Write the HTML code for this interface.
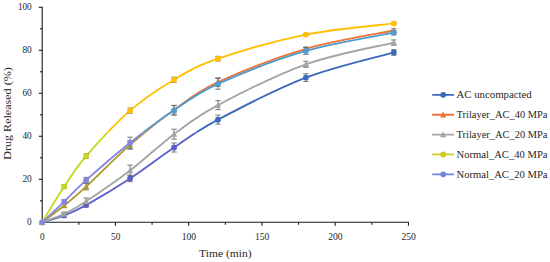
<!DOCTYPE html>
<html><head><meta charset="utf-8"><title>Drug release</title><style>html,body{margin:0;padding:0;background:#fff}svg{display:block}</style></head><body>
<svg width="550" height="262" viewBox="0 0 550 262">
<rect width="550" height="262" fill="#fff"/>
<g font-family="'Liberation Serif', serif" fill="#262626">
<g stroke="#1a1a1a" stroke-width="1.1" fill="none">
<path d="M42.20 6.75 V222.85"/>
<path d="M41.65 222.30 H409.00"/>
<path d="M40.00 200.80 H42.20"/>
<path d="M38.80 179.30 H42.20"/>
<path d="M40.00 157.80 H42.20"/>
<path d="M38.80 136.30 H42.20"/>
<path d="M40.00 114.80 H42.20"/>
<path d="M38.80 93.30 H42.20"/>
<path d="M40.00 71.80 H42.20"/>
<path d="M38.80 50.30 H42.20"/>
<path d="M40.00 28.80 H42.20"/>
<path d="M38.80 7.30 H42.20"/>
<path d="M78.83 222.30 V224.70"/>
<path d="M115.45 222.30 V225.70"/>
<path d="M152.07 222.30 V224.70"/>
<path d="M188.70 222.30 V225.70"/>
<path d="M225.32 222.30 V224.70"/>
<path d="M261.95 222.30 V225.70"/>
<path d="M298.57 222.30 V224.70"/>
<path d="M335.20 222.30 V225.70"/>
<path d="M371.82 222.30 V224.70"/>
<path d="M408.45 222.30 V225.70"/>
</g>
<text x="31.7" y="225.45" font-size="10" text-anchor="end" textLength="4.6" lengthAdjust="spacingAndGlyphs">0</text>
<text x="31.7" y="182.45" font-size="10" text-anchor="end" textLength="9.3" lengthAdjust="spacingAndGlyphs">20</text>
<text x="31.7" y="139.45" font-size="10" text-anchor="end" textLength="9.3" lengthAdjust="spacingAndGlyphs">40</text>
<text x="31.7" y="96.45" font-size="10" text-anchor="end" textLength="9.3" lengthAdjust="spacingAndGlyphs">60</text>
<text x="31.7" y="53.45" font-size="10" text-anchor="end" textLength="9.3" lengthAdjust="spacingAndGlyphs">80</text>
<text x="31.7" y="10.45" font-size="10" text-anchor="end" textLength="13.8" lengthAdjust="spacingAndGlyphs">100</text>
<text x="42.40" y="239.7" font-size="10" text-anchor="middle" textLength="4.6" lengthAdjust="spacingAndGlyphs">0</text>
<text x="115.65" y="239.7" font-size="10" text-anchor="middle" textLength="9.3" lengthAdjust="spacingAndGlyphs">50</text>
<text x="188.90" y="239.7" font-size="10" text-anchor="middle" textLength="14.4" lengthAdjust="spacingAndGlyphs">100</text>
<text x="262.15" y="239.7" font-size="10" text-anchor="middle" textLength="14.4" lengthAdjust="spacingAndGlyphs">150</text>
<text x="335.40" y="239.7" font-size="10" text-anchor="middle" textLength="14.4" lengthAdjust="spacingAndGlyphs">200</text>
<text x="408.65" y="239.7" font-size="10" text-anchor="middle" textLength="14.4" lengthAdjust="spacingAndGlyphs">250</text>
<text x="225.3" y="256.5" font-size="10.6" text-anchor="middle" textLength="52.4" lengthAdjust="spacingAndGlyphs">Time (min)</text>
<text transform="translate(11.2,113.5) rotate(-90)" font-size="10.6" text-anchor="middle" textLength="92.4" lengthAdjust="spacingAndGlyphs">Drug Released (%)</text>
<defs><clipPath id="ct"><rect x="0" y="0" width="550" height="132.5"/></clipPath><clipPath id="cb"><rect x="0" y="132.5" width="550" height="129.5"/></clipPath></defs>
<g clip-path="url(#ct)">
<path d="M42.20 222.30 C45.86 221.15 56.85 218.29 64.18 215.42 C71.50 212.55 75.16 211.26 86.15 205.10 C97.14 198.94 115.45 188.04 130.10 178.44 C144.75 168.84 159.40 157.28 174.05 147.48 C188.70 137.68 196.03 131.28 218.00 119.64 C239.97 107.99 276.60 88.80 305.90 77.61 C335.20 66.41 379.15 56.64 393.80 52.45" stroke="#3B6ABD" stroke-width="1.85" fill="none" stroke-linejoin="round" stroke-linecap="round"/>
<path d="M64.18 213.70 V217.14 M61.48 213.70 h5.4 M61.48 217.14 h5.4" stroke="#6a6a6a" stroke-width="0.9" fill="none"/>
<path d="M86.15 202.95 V207.25 M83.45 202.95 h5.4 M83.45 207.25 h5.4" stroke="#6a6a6a" stroke-width="0.9" fill="none"/>
<path d="M130.10 175.22 V181.67 M127.40 175.22 h5.4 M127.40 181.67 h5.4" stroke="#6a6a6a" stroke-width="0.9" fill="none"/>
<path d="M174.05 142.97 V152.00 M171.35 142.97 h5.4 M171.35 152.00 h5.4" stroke="#6a6a6a" stroke-width="0.9" fill="none"/>
<path d="M218.00 115.12 V124.15 M215.30 115.12 h5.4 M215.30 124.15 h5.4" stroke="#6a6a6a" stroke-width="0.9" fill="none"/>
<path d="M305.90 73.74 V81.48 M303.20 73.74 h5.4 M303.20 81.48 h5.4" stroke="#6a6a6a" stroke-width="0.9" fill="none"/>
<path d="M393.80 49.66 V55.25 M391.10 49.66 h5.4 M391.10 55.25 h5.4" stroke="#6a6a6a" stroke-width="0.9" fill="none"/>
<circle cx="42.20" cy="222.30" r="2.9" fill="#3B6ABD"/>
<circle cx="64.18" cy="215.42" r="2.9" fill="#3B6ABD"/>
<circle cx="86.15" cy="205.10" r="2.9" fill="#3B6ABD"/>
<circle cx="130.10" cy="178.44" r="2.9" fill="#3B6ABD"/>
<circle cx="174.05" cy="147.48" r="2.9" fill="#3B6ABD"/>
<circle cx="218.00" cy="119.64" r="2.9" fill="#3B6ABD"/>
<circle cx="305.90" cy="77.61" r="2.9" fill="#3B6ABD"/>
<circle cx="393.80" cy="52.45" r="2.9" fill="#3B6ABD"/>
<path d="M42.20 222.30 C45.86 219.50 56.85 211.48 64.18 205.53 C71.50 199.58 75.16 196.72 86.15 186.61 C97.14 176.51 115.45 157.69 130.10 144.90 C144.75 132.11 159.40 120.32 174.05 109.86 C188.70 99.39 196.03 92.30 218.00 82.12 C239.97 71.94 276.60 57.40 305.90 48.80 C335.20 40.20 379.15 33.57 393.80 30.52" stroke="#EE7336" stroke-width="1.85" fill="none" stroke-linejoin="round" stroke-linecap="round"/>
<path d="M64.18 203.81 V207.25 M61.48 203.81 h5.4 M61.48 207.25 h5.4" stroke="#6a6a6a" stroke-width="0.9" fill="none"/>
<path d="M86.15 183.39 V189.84 M83.45 183.39 h5.4 M83.45 189.84 h5.4" stroke="#6a6a6a" stroke-width="0.9" fill="none"/>
<path d="M130.10 140.60 V149.20 M127.40 140.60 h5.4 M127.40 149.20 h5.4" stroke="#6a6a6a" stroke-width="0.9" fill="none"/>
<path d="M174.05 105.56 V114.16 M171.35 105.56 h5.4 M171.35 114.16 h5.4" stroke="#6a6a6a" stroke-width="0.9" fill="none"/>
<path d="M218.00 77.82 V86.42 M215.30 77.82 h5.4 M215.30 86.42 h5.4" stroke="#6a6a6a" stroke-width="0.9" fill="none"/>
<path d="M305.90 47.08 V50.52 M303.20 47.08 h5.4 M303.20 50.52 h5.4" stroke="#6a6a6a" stroke-width="0.9" fill="none"/>
<path d="M393.80 28.80 V32.24 M391.10 28.80 h5.4 M391.10 32.24 h5.4" stroke="#6a6a6a" stroke-width="0.9" fill="none"/>
<path d="M42.20 219.10 L45.40 225.02 L39.00 225.02 Z" fill="#EE7336"/>
<path d="M64.18 202.33 L67.38 208.25 L60.98 208.25 Z" fill="#EE7336"/>
<path d="M86.15 183.41 L89.35 189.33 L82.95 189.33 Z" fill="#EE7336"/>
<path d="M130.10 141.70 L133.30 147.62 L126.90 147.62 Z" fill="#EE7336"/>
<path d="M174.05 106.66 L177.25 112.58 L170.85 112.58 Z" fill="#EE7336"/>
<path d="M218.00 78.92 L221.20 84.84 L214.80 84.84 Z" fill="#EE7336"/>
<path d="M305.90 45.60 L309.10 51.52 L302.70 51.52 Z" fill="#EE7336"/>
<path d="M393.80 27.32 L397.00 33.24 L390.60 33.24 Z" fill="#EE7336"/>
<path d="M42.20 222.30 C45.86 220.90 56.85 217.43 64.18 213.92 C71.50 210.40 75.16 208.47 86.15 201.23 C97.14 193.99 115.45 181.67 130.10 170.49 C144.75 159.31 159.40 145.04 174.05 134.15 C188.70 123.26 196.03 116.77 218.00 105.13 C239.97 93.48 276.60 74.70 305.90 64.28 C335.20 53.85 379.15 46.18 393.80 42.56" stroke="#A5A5A5" stroke-width="1.85" fill="none" stroke-linejoin="round" stroke-linecap="round"/>
<path d="M64.18 212.20 V215.64 M61.48 212.20 h5.4 M61.48 215.64 h5.4" stroke="#6a6a6a" stroke-width="0.9" fill="none"/>
<path d="M86.15 198.00 V204.46 M83.45 198.00 h5.4 M83.45 204.46 h5.4" stroke="#6a6a6a" stroke-width="0.9" fill="none"/>
<path d="M130.10 165.11 V175.86 M127.40 165.11 h5.4 M127.40 175.86 h5.4" stroke="#6a6a6a" stroke-width="0.9" fill="none"/>
<path d="M174.05 129.21 V139.10 M171.35 129.21 h5.4 M171.35 139.10 h5.4" stroke="#6a6a6a" stroke-width="0.9" fill="none"/>
<path d="M218.00 100.61 V109.64 M215.30 100.61 h5.4 M215.30 109.64 h5.4" stroke="#6a6a6a" stroke-width="0.9" fill="none"/>
<path d="M305.90 61.27 V67.29 M303.20 61.27 h5.4 M303.20 67.29 h5.4" stroke="#6a6a6a" stroke-width="0.9" fill="none"/>
<path d="M393.80 39.98 V45.14 M391.10 39.98 h5.4 M391.10 45.14 h5.4" stroke="#6a6a6a" stroke-width="0.9" fill="none"/>
<path d="M42.20 219.10 L45.40 225.02 L39.00 225.02 Z" fill="#A5A5A5"/>
<path d="M64.18 210.72 L67.38 216.64 L60.98 216.64 Z" fill="#A5A5A5"/>
<path d="M86.15 198.03 L89.35 203.95 L82.95 203.95 Z" fill="#A5A5A5"/>
<path d="M130.10 167.29 L133.30 173.21 L126.90 173.21 Z" fill="#A5A5A5"/>
<path d="M174.05 130.95 L177.25 136.87 L170.85 136.87 Z" fill="#A5A5A5"/>
<path d="M218.00 101.93 L221.20 107.85 L214.80 107.85 Z" fill="#A5A5A5"/>
<path d="M305.90 61.08 L309.10 67.00 L302.70 67.00 Z" fill="#A5A5A5"/>
<path d="M393.80 39.36 L397.00 45.28 L390.60 45.28 Z" fill="#A5A5A5"/>
<path d="M42.20 222.30 C45.86 216.35 56.85 197.65 64.18 186.61 C71.50 175.57 75.16 168.75 86.15 156.08 C97.14 143.41 115.45 123.33 130.10 110.61 C144.75 97.89 159.40 88.41 174.05 79.76 C188.70 71.10 196.03 66.21 218.00 58.69 C239.97 51.16 276.60 40.48 305.90 34.61 C335.20 28.73 379.15 25.29 393.80 23.43" stroke="#FFC000" stroke-width="1.85" fill="none" stroke-linejoin="round" stroke-linecap="round"/>
<path d="M64.18 184.68 V188.55 M61.48 184.68 h5.4 M61.48 188.55 h5.4" stroke="#6a6a6a" stroke-width="0.9" fill="none"/>
<path d="M86.15 153.93 V158.23 M83.45 153.93 h5.4 M83.45 158.23 h5.4" stroke="#6a6a6a" stroke-width="0.9" fill="none"/>
<path d="M130.10 108.03 V113.19 M127.40 108.03 h5.4 M127.40 113.19 h5.4" stroke="#6a6a6a" stroke-width="0.9" fill="none"/>
<path d="M174.05 77.18 V82.34 M171.35 77.18 h5.4 M171.35 82.34 h5.4" stroke="#6a6a6a" stroke-width="0.9" fill="none"/>
<path d="M218.00 56.32 V61.05 M215.30 56.32 h5.4 M215.30 61.05 h5.4" stroke="#6a6a6a" stroke-width="0.9" fill="none"/>
<path d="M305.90 33.75 V35.47 M303.20 33.75 h5.4 M303.20 35.47 h5.4" stroke="#6a6a6a" stroke-width="0.9" fill="none"/>
<path d="M393.80 22.56 V24.29 M391.10 22.56 h5.4 M391.10 24.29 h5.4" stroke="#6a6a6a" stroke-width="0.9" fill="none"/>
<circle cx="42.20" cy="222.30" r="2.9" fill="#FFC000"/>
<circle cx="64.18" cy="186.61" r="2.9" fill="#FFC000"/>
<circle cx="86.15" cy="156.08" r="2.9" fill="#FFC000"/>
<circle cx="130.10" cy="110.61" r="2.9" fill="#FFC000"/>
<circle cx="174.05" cy="79.76" r="2.9" fill="#FFC000"/>
<circle cx="218.00" cy="58.69" r="2.9" fill="#FFC000"/>
<circle cx="305.90" cy="34.61" r="2.9" fill="#FFC000"/>
<circle cx="393.80" cy="23.43" r="2.9" fill="#FFC000"/>
<path d="M42.20 222.30 C45.86 218.86 56.85 208.68 64.18 201.66 C71.50 194.64 75.16 189.98 86.15 180.16 C97.14 170.34 115.45 154.40 130.10 142.75 C144.75 131.10 159.40 120.10 174.05 110.29 C188.70 100.47 196.03 93.73 218.00 83.84 C239.97 73.95 276.60 59.47 305.90 50.95 C335.20 42.42 379.15 35.72 393.80 32.67" stroke="#509BD0" stroke-width="1.85" fill="none" stroke-linejoin="round" stroke-linecap="round"/>
<path d="M64.18 199.73 V203.60 M61.48 199.73 h5.4 M61.48 203.60 h5.4" stroke="#6a6a6a" stroke-width="0.9" fill="none"/>
<path d="M86.15 177.37 V182.96 M83.45 177.37 h5.4 M83.45 182.96 h5.4" stroke="#6a6a6a" stroke-width="0.9" fill="none"/>
<path d="M130.10 137.16 V148.34 M127.40 137.16 h5.4 M127.40 148.34 h5.4" stroke="#6a6a6a" stroke-width="0.9" fill="none"/>
<path d="M174.05 105.34 V115.23 M171.35 105.34 h5.4 M171.35 115.23 h5.4" stroke="#6a6a6a" stroke-width="0.9" fill="none"/>
<path d="M218.00 78.47 V89.22 M215.30 78.47 h5.4 M215.30 89.22 h5.4" stroke="#6a6a6a" stroke-width="0.9" fill="none"/>
<path d="M305.90 47.51 V54.38 M303.20 47.51 h5.4 M303.20 54.38 h5.4" stroke="#6a6a6a" stroke-width="0.9" fill="none"/>
<path d="M393.80 30.52 V34.82 M391.10 30.52 h5.4 M391.10 34.82 h5.4" stroke="#6a6a6a" stroke-width="0.9" fill="none"/>
<circle cx="42.20" cy="222.30" r="2.9" fill="#509BD0"/>
<circle cx="64.18" cy="201.66" r="2.9" fill="#509BD0"/>
<circle cx="86.15" cy="180.16" r="2.9" fill="#509BD0"/>
<circle cx="130.10" cy="142.75" r="2.9" fill="#509BD0"/>
<circle cx="174.05" cy="110.29" r="2.9" fill="#509BD0"/>
<circle cx="218.00" cy="83.84" r="2.9" fill="#509BD0"/>
<circle cx="305.90" cy="50.95" r="2.9" fill="#509BD0"/>
<circle cx="393.80" cy="32.67" r="2.9" fill="#509BD0"/>
<path d="M432.2 94.8 H454" stroke="#3B6ABD" stroke-width="1.85"/>
<circle cx="443.20" cy="94.80" r="2.9" fill="#3B6ABD"/>
<path d="M432.2 114.7 H454" stroke="#EE7336" stroke-width="1.85"/>
<path d="M443.20 111.50 L446.40 117.42 L440.00 117.42 Z" fill="#EE7336"/>
<path d="M432.2 134.6 H454" stroke="#A5A5A5" stroke-width="1.85"/>
<path d="M443.20 131.40 L446.40 137.32 L440.00 137.32 Z" fill="#A5A5A5"/>
<path d="M432.2 154.4 H454" stroke="#FFC000" stroke-width="1.85"/>
<circle cx="443.20" cy="154.40" r="2.9" fill="#FFC000"/>
<path d="M432.2 174.3 H454" stroke="#509BD0" stroke-width="1.85"/>
<circle cx="443.20" cy="174.30" r="2.9" fill="#509BD0"/>
</g>
<g clip-path="url(#cb)">
<path d="M42.20 222.30 C45.86 221.15 56.85 218.29 64.18 215.42 C71.50 212.55 75.16 211.26 86.15 205.10 C97.14 198.94 115.45 188.04 130.10 178.44 C144.75 168.84 159.40 157.28 174.05 147.48 C188.70 137.68 196.03 131.28 218.00 119.64 C239.97 107.99 276.60 88.80 305.90 77.61 C335.20 66.41 379.15 56.64 393.80 52.45" stroke="#5C60CC" stroke-width="1.85" fill="none" stroke-linejoin="round" stroke-linecap="round"/>
<path d="M64.18 213.70 V217.14 M61.48 213.70 h5.4 M61.48 217.14 h5.4" stroke="#6a6a6a" stroke-width="0.9" fill="none"/>
<path d="M86.15 202.95 V207.25 M83.45 202.95 h5.4 M83.45 207.25 h5.4" stroke="#6a6a6a" stroke-width="0.9" fill="none"/>
<path d="M130.10 175.22 V181.67 M127.40 175.22 h5.4 M127.40 181.67 h5.4" stroke="#6a6a6a" stroke-width="0.9" fill="none"/>
<path d="M174.05 142.97 V152.00 M171.35 142.97 h5.4 M171.35 152.00 h5.4" stroke="#6a6a6a" stroke-width="0.9" fill="none"/>
<path d="M218.00 115.12 V124.15 M215.30 115.12 h5.4 M215.30 124.15 h5.4" stroke="#6a6a6a" stroke-width="0.9" fill="none"/>
<path d="M305.90 73.74 V81.48 M303.20 73.74 h5.4 M303.20 81.48 h5.4" stroke="#6a6a6a" stroke-width="0.9" fill="none"/>
<path d="M393.80 49.66 V55.25 M391.10 49.66 h5.4 M391.10 55.25 h5.4" stroke="#6a6a6a" stroke-width="0.9" fill="none"/>
<circle cx="42.20" cy="222.30" r="2.9" fill="#5C60CC"/>
<circle cx="64.18" cy="215.42" r="2.9" fill="#5C60CC"/>
<circle cx="86.15" cy="205.10" r="2.9" fill="#5C60CC"/>
<circle cx="130.10" cy="178.44" r="2.9" fill="#5C60CC"/>
<circle cx="174.05" cy="147.48" r="2.9" fill="#5C60CC"/>
<circle cx="218.00" cy="119.64" r="2.9" fill="#5C60CC"/>
<circle cx="305.90" cy="77.61" r="2.9" fill="#5C60CC"/>
<circle cx="393.80" cy="52.45" r="2.9" fill="#5C60CC"/>
<path d="M42.20 222.30 C45.86 219.50 56.85 211.48 64.18 205.53 C71.50 199.58 75.16 196.72 86.15 186.61 C97.14 176.51 115.45 157.69 130.10 144.90 C144.75 132.11 159.40 120.32 174.05 109.86 C188.70 99.39 196.03 92.30 218.00 82.12 C239.97 71.94 276.60 57.40 305.90 48.80 C335.20 40.20 379.15 33.57 393.80 30.52" stroke="#AE9A2C" stroke-width="1.85" fill="none" stroke-linejoin="round" stroke-linecap="round"/>
<path d="M64.18 203.81 V207.25 M61.48 203.81 h5.4 M61.48 207.25 h5.4" stroke="#6a6a6a" stroke-width="0.9" fill="none"/>
<path d="M86.15 183.39 V189.84 M83.45 183.39 h5.4 M83.45 189.84 h5.4" stroke="#6a6a6a" stroke-width="0.9" fill="none"/>
<path d="M130.10 140.60 V149.20 M127.40 140.60 h5.4 M127.40 149.20 h5.4" stroke="#6a6a6a" stroke-width="0.9" fill="none"/>
<path d="M174.05 105.56 V114.16 M171.35 105.56 h5.4 M171.35 114.16 h5.4" stroke="#6a6a6a" stroke-width="0.9" fill="none"/>
<path d="M218.00 77.82 V86.42 M215.30 77.82 h5.4 M215.30 86.42 h5.4" stroke="#6a6a6a" stroke-width="0.9" fill="none"/>
<path d="M305.90 47.08 V50.52 M303.20 47.08 h5.4 M303.20 50.52 h5.4" stroke="#6a6a6a" stroke-width="0.9" fill="none"/>
<path d="M393.80 28.80 V32.24 M391.10 28.80 h5.4 M391.10 32.24 h5.4" stroke="#6a6a6a" stroke-width="0.9" fill="none"/>
<path d="M42.20 219.10 L45.40 225.02 L39.00 225.02 Z" fill="#AE9A2C"/>
<path d="M64.18 202.33 L67.38 208.25 L60.98 208.25 Z" fill="#AE9A2C"/>
<path d="M86.15 183.41 L89.35 189.33 L82.95 189.33 Z" fill="#AE9A2C"/>
<path d="M130.10 141.70 L133.30 147.62 L126.90 147.62 Z" fill="#AE9A2C"/>
<path d="M174.05 106.66 L177.25 112.58 L170.85 112.58 Z" fill="#AE9A2C"/>
<path d="M218.00 78.92 L221.20 84.84 L214.80 84.84 Z" fill="#AE9A2C"/>
<path d="M305.90 45.60 L309.10 51.52 L302.70 51.52 Z" fill="#AE9A2C"/>
<path d="M393.80 27.32 L397.00 33.24 L390.60 33.24 Z" fill="#AE9A2C"/>
<path d="M42.20 222.30 C45.86 220.90 56.85 217.43 64.18 213.92 C71.50 210.40 75.16 208.47 86.15 201.23 C97.14 193.99 115.45 181.67 130.10 170.49 C144.75 159.31 159.40 145.04 174.05 134.15 C188.70 123.26 196.03 116.77 218.00 105.13 C239.97 93.48 276.60 74.70 305.90 64.28 C335.20 53.85 379.15 46.18 393.80 42.56" stroke="#A0A7A5" stroke-width="1.85" fill="none" stroke-linejoin="round" stroke-linecap="round"/>
<path d="M64.18 212.20 V215.64 M61.48 212.20 h5.4 M61.48 215.64 h5.4" stroke="#6a6a6a" stroke-width="0.9" fill="none"/>
<path d="M86.15 198.00 V204.46 M83.45 198.00 h5.4 M83.45 204.46 h5.4" stroke="#6a6a6a" stroke-width="0.9" fill="none"/>
<path d="M130.10 165.11 V175.86 M127.40 165.11 h5.4 M127.40 175.86 h5.4" stroke="#6a6a6a" stroke-width="0.9" fill="none"/>
<path d="M174.05 129.21 V139.10 M171.35 129.21 h5.4 M171.35 139.10 h5.4" stroke="#6a6a6a" stroke-width="0.9" fill="none"/>
<path d="M218.00 100.61 V109.64 M215.30 100.61 h5.4 M215.30 109.64 h5.4" stroke="#6a6a6a" stroke-width="0.9" fill="none"/>
<path d="M305.90 61.27 V67.29 M303.20 61.27 h5.4 M303.20 67.29 h5.4" stroke="#6a6a6a" stroke-width="0.9" fill="none"/>
<path d="M393.80 39.98 V45.14 M391.10 39.98 h5.4 M391.10 45.14 h5.4" stroke="#6a6a6a" stroke-width="0.9" fill="none"/>
<path d="M42.20 219.10 L45.40 225.02 L39.00 225.02 Z" fill="#A0A7A5"/>
<path d="M64.18 210.72 L67.38 216.64 L60.98 216.64 Z" fill="#A0A7A5"/>
<path d="M86.15 198.03 L89.35 203.95 L82.95 203.95 Z" fill="#A0A7A5"/>
<path d="M130.10 167.29 L133.30 173.21 L126.90 173.21 Z" fill="#A0A7A5"/>
<path d="M174.05 130.95 L177.25 136.87 L170.85 136.87 Z" fill="#A0A7A5"/>
<path d="M218.00 101.93 L221.20 107.85 L214.80 107.85 Z" fill="#A0A7A5"/>
<path d="M305.90 61.08 L309.10 67.00 L302.70 67.00 Z" fill="#A0A7A5"/>
<path d="M393.80 39.36 L397.00 45.28 L390.60 45.28 Z" fill="#A0A7A5"/>
<path d="M42.20 222.30 C45.86 216.35 56.85 197.65 64.18 186.61 C71.50 175.57 75.16 168.75 86.15 156.08 C97.14 143.41 115.45 123.33 130.10 110.61 C144.75 97.89 159.40 88.41 174.05 79.76 C188.70 71.10 196.03 66.21 218.00 58.69 C239.97 51.16 276.60 40.48 305.90 34.61 C335.20 28.73 379.15 25.29 393.80 23.43" stroke="#C8D61E" stroke-width="1.85" fill="none" stroke-linejoin="round" stroke-linecap="round"/>
<path d="M64.18 184.68 V188.55 M61.48 184.68 h5.4 M61.48 188.55 h5.4" stroke="#6a6a6a" stroke-width="0.9" fill="none"/>
<path d="M86.15 153.93 V158.23 M83.45 153.93 h5.4 M83.45 158.23 h5.4" stroke="#6a6a6a" stroke-width="0.9" fill="none"/>
<path d="M130.10 108.03 V113.19 M127.40 108.03 h5.4 M127.40 113.19 h5.4" stroke="#6a6a6a" stroke-width="0.9" fill="none"/>
<path d="M174.05 77.18 V82.34 M171.35 77.18 h5.4 M171.35 82.34 h5.4" stroke="#6a6a6a" stroke-width="0.9" fill="none"/>
<path d="M218.00 56.32 V61.05 M215.30 56.32 h5.4 M215.30 61.05 h5.4" stroke="#6a6a6a" stroke-width="0.9" fill="none"/>
<path d="M305.90 33.75 V35.47 M303.20 33.75 h5.4 M303.20 35.47 h5.4" stroke="#6a6a6a" stroke-width="0.9" fill="none"/>
<path d="M393.80 22.56 V24.29 M391.10 22.56 h5.4 M391.10 24.29 h5.4" stroke="#6a6a6a" stroke-width="0.9" fill="none"/>
<circle cx="42.20" cy="222.30" r="2.9" fill="#C8D61E"/>
<circle cx="64.18" cy="186.61" r="2.9" fill="#C8D61E"/>
<circle cx="86.15" cy="156.08" r="2.9" fill="#C8D61E"/>
<circle cx="130.10" cy="110.61" r="2.9" fill="#C8D61E"/>
<circle cx="174.05" cy="79.76" r="2.9" fill="#C8D61E"/>
<circle cx="218.00" cy="58.69" r="2.9" fill="#C8D61E"/>
<circle cx="305.90" cy="34.61" r="2.9" fill="#C8D61E"/>
<circle cx="393.80" cy="23.43" r="2.9" fill="#C8D61E"/>
<path d="M42.20 222.30 C45.86 218.86 56.85 208.68 64.18 201.66 C71.50 194.64 75.16 189.98 86.15 180.16 C97.14 170.34 115.45 154.40 130.10 142.75 C144.75 131.10 159.40 120.10 174.05 110.29 C188.70 100.47 196.03 93.73 218.00 83.84 C239.97 73.95 276.60 59.47 305.90 50.95 C335.20 42.42 379.15 35.72 393.80 32.67" stroke="#8686E2" stroke-width="1.85" fill="none" stroke-linejoin="round" stroke-linecap="round"/>
<path d="M64.18 199.73 V203.60 M61.48 199.73 h5.4 M61.48 203.60 h5.4" stroke="#6a6a6a" stroke-width="0.9" fill="none"/>
<path d="M86.15 177.37 V182.96 M83.45 177.37 h5.4 M83.45 182.96 h5.4" stroke="#6a6a6a" stroke-width="0.9" fill="none"/>
<path d="M130.10 137.16 V148.34 M127.40 137.16 h5.4 M127.40 148.34 h5.4" stroke="#6a6a6a" stroke-width="0.9" fill="none"/>
<path d="M174.05 105.34 V115.23 M171.35 105.34 h5.4 M171.35 115.23 h5.4" stroke="#6a6a6a" stroke-width="0.9" fill="none"/>
<path d="M218.00 78.47 V89.22 M215.30 78.47 h5.4 M215.30 89.22 h5.4" stroke="#6a6a6a" stroke-width="0.9" fill="none"/>
<path d="M305.90 47.51 V54.38 M303.20 47.51 h5.4 M303.20 54.38 h5.4" stroke="#6a6a6a" stroke-width="0.9" fill="none"/>
<path d="M393.80 30.52 V34.82 M391.10 30.52 h5.4 M391.10 34.82 h5.4" stroke="#6a6a6a" stroke-width="0.9" fill="none"/>
<circle cx="42.20" cy="222.30" r="2.9" fill="#8686E2"/>
<circle cx="64.18" cy="201.66" r="2.9" fill="#8686E2"/>
<circle cx="86.15" cy="180.16" r="2.9" fill="#8686E2"/>
<circle cx="130.10" cy="142.75" r="2.9" fill="#8686E2"/>
<circle cx="174.05" cy="110.29" r="2.9" fill="#8686E2"/>
<circle cx="218.00" cy="83.84" r="2.9" fill="#8686E2"/>
<circle cx="305.90" cy="50.95" r="2.9" fill="#8686E2"/>
<circle cx="393.80" cy="32.67" r="2.9" fill="#8686E2"/>
<path d="M432.2 94.8 H454" stroke="#5C60CC" stroke-width="1.85"/>
<circle cx="443.20" cy="94.80" r="2.9" fill="#5C60CC"/>
<path d="M432.2 114.7 H454" stroke="#AE9A2C" stroke-width="1.85"/>
<path d="M443.20 111.50 L446.40 117.42 L440.00 117.42 Z" fill="#AE9A2C"/>
<path d="M432.2 134.6 H454" stroke="#A5A5A5" stroke-width="1.85"/>
<path d="M443.20 131.40 L446.40 137.32 L440.00 137.32 Z" fill="#A5A5A5"/>
<path d="M432.2 154.4 H454" stroke="#D2CA20" stroke-width="1.85"/>
<circle cx="443.20" cy="154.40" r="2.9" fill="#D2CA20"/>
<path d="M432.2 174.3 H454" stroke="#7082D8" stroke-width="1.85"/>
<circle cx="443.20" cy="174.30" r="2.9" fill="#7082D8"/>
</g>
<text x="456.5" y="98.2" font-size="10.5" textLength="75.2" lengthAdjust="spacingAndGlyphs">AC uncompacted</text>
<text x="456.5" y="118.1" font-size="10.5" textLength="91.0" lengthAdjust="spacingAndGlyphs">Trilayer_AC_40 MPa</text>
<text x="456.5" y="138.0" font-size="10.5" textLength="91.0" lengthAdjust="spacingAndGlyphs">Trilayer_AC_20 MPa</text>
<text x="456.5" y="157.8" font-size="10.5" textLength="91.0" lengthAdjust="spacingAndGlyphs">Normal_AC_40 MPa</text>
<text x="456.5" y="177.7" font-size="10.5" textLength="91.0" lengthAdjust="spacingAndGlyphs">Normal_AC_20 MPa</text>
</g></svg>
</body></html>
